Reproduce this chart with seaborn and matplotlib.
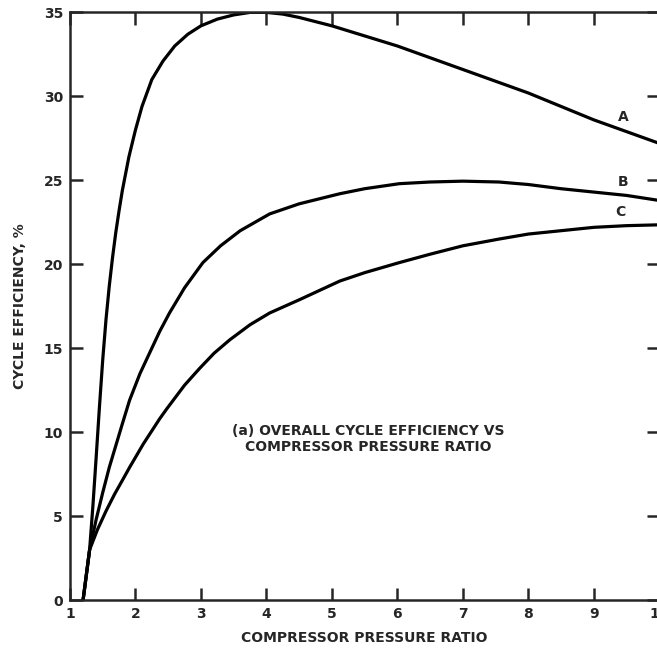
import pandas as pd
import numpy as np
import seaborn as sns
import matplotlib
matplotlib.use('Agg')
import matplotlib.pyplot as plt

# curve A
a_ratio = [1.2, 1.25, 1.30, 1.35, 1.40, 1.45, 1.50, 1.55, 1.60, 1.65, 1.70, 1.75, 1.80, 1.90,
           2.00, 2.10, 2.25, 2.42, 2.60, 2.80, 3.00, 3.25, 3.50, 3.75, 4.00, 4.25, 4.50,
           5.0, 5.5, 6.0, 6.5, 7.0, 7.5, 8.0, 8.5, 9.0, 9.5, 10.0]
a_eff = [0, 1.5, 3.0, 5.6, 8.5, 11.5, 14.3, 16.7, 18.7, 20.4, 21.9, 23.2, 24.4, 26.4,
         28.0, 29.4, 31.0, 32.1, 33.0, 33.7, 34.2, 34.6, 34.85, 35.0, 35.0, 34.9, 34.7,
         34.2, 33.6, 33.0, 32.3, 31.6, 30.9, 30.2, 29.4, 28.6, 27.9, 27.2]
# curve B
b_ratio = [1.2, 1.25, 1.30, 1.40, 1.50, 1.60, 1.70, 1.80, 1.91, 2.07, 2.25, 2.37, 2.52,
           2.75, 3.03, 3.3, 3.6, 4.05, 4.5, 5.12, 5.5, 6.03, 6.5, 7.0, 7.55, 8.0, 8.5,
           9.0, 9.5, 10.0]
b_eff = [0, 1.5, 3.0, 4.8, 6.4, 7.9, 9.2, 10.5, 11.9, 13.5, 15.0, 16.0, 17.1,
         18.6, 20.1, 21.1, 22.0, 23.0, 23.6, 24.2, 24.5, 24.8, 24.9, 24.95, 24.9, 24.75, 24.5,
         24.3, 24.1, 23.8]
# curve C
c_ratio = [1.2, 1.25, 1.30, 1.42, 1.55, 1.68, 1.81, 1.91, 2.12, 2.37, 2.48, 2.75, 2.98,
           3.2, 3.44, 3.75, 4.05, 4.51, 5.12, 5.5, 6.03, 6.5, 7.0, 7.55, 8.0, 8.5, 9.0,
           9.5, 10.0]
c_eff = [0, 1.5, 3.0, 4.2, 5.3, 6.3, 7.2, 7.9, 9.3, 10.8, 11.4, 12.8, 13.8,
         14.7, 15.5, 16.4, 17.1, 17.9, 19.0, 19.5, 20.1, 20.6, 21.1, 21.5, 21.8, 22.0, 22.2,
         22.3, 22.35]

curve_names = ['A', 'B', 'C']
label_pos = [(9.45, 28.8), (9.45, 24.9), (9.4, 23.1)]

sns.set_style('ticks')
plt.rcParams['font.family'] = ['DejaVu Sans']
plt.rcParams['font.weight'] = 'bold'

fig = plt.figure(figsize=(6.57, 6.53), dpi=100)
ax = fig.add_axes([0.1065, 0.081, 0.897, 0.9])

for xs, ys in [(a_ratio, a_eff), (b_ratio, b_eff), (c_ratio, c_eff)]:
    sns.lineplot(x=xs, y=ys, color='black', lw=2.3, estimator=None, ax=ax)

for name, (lx, ly) in zip(curve_names, label_pos):
    ax.text(lx, ly, name, fontsize=10, fontweight='bold', ha='center', va='center')

ax.text(5.55, 9.6, '(a) OVERALL CYCLE EFFICIENCY VS\nCOMPRESSOR PRESSURE RATIO',
        fontsize=10, fontweight='bold', ha='center', va='center', linespacing=1.2)

ax.set_xlim(1, 10)
ax.set_ylim(0, 35)
ax.set_xticks(range(1, 11))
ax.set_yticks(range(0, 36, 5))
ax.tick_params(direction='in', length=9, width=1.8, top=True, right=True,
               labelsize=10, pad=5)
for lab in ax.get_xticklabels() + ax.get_yticklabels():
    lab.set_fontweight('bold')
for sp in ax.spines.values():
    sp.set_linewidth(1.8)

ax.set_xlabel('COMPRESSOR PRESSURE RATIO', fontsize=10, fontweight='bold', labelpad=7)
ax.set_ylabel('CYCLE EFFICIENCY, %', fontsize=10, fontweight='bold', labelpad=12)

fig.savefig('out.png', dpi=100)
